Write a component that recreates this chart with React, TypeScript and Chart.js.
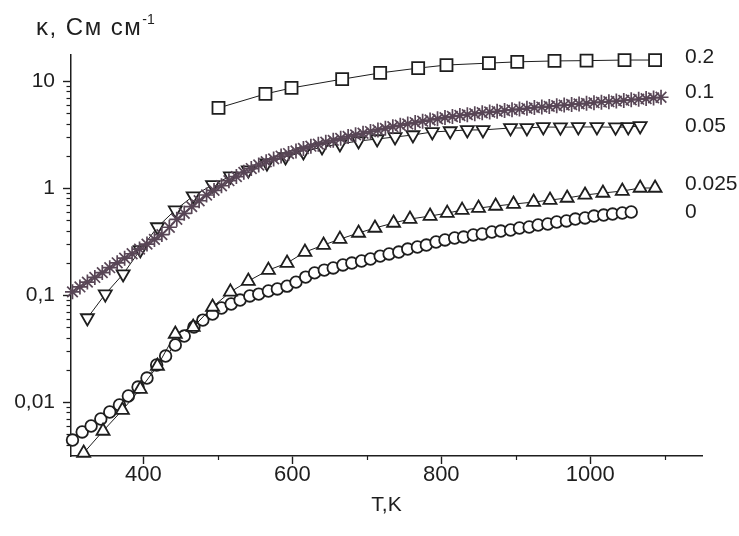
import React, { useEffect, useRef } from 'react';
import { Chart, registerables } from 'chart.js';

Chart.register(...registerables);

// ---- data (T in K, kappa in S/cm) ----
const T_SQ = [501, 564, 599, 667, 718, 769, 807, 864, 902, 952, 995, 1046, 1087];
const K_SQ = [5.6, 7.57, 8.61, 10.4, 11.9, 13.2, 14.1, 14.7, 15.1, 15.4, 15.5, 15.7, 15.7];

const T_STAR = [305, 315, 325, 335, 345, 355, 365, 375, 385, 395, 405, 415, 425, 435, 445, 455, 465, 475, 485, 495,
  505, 515, 525, 535, 545, 555, 565, 575, 585, 595, 605, 615, 625, 635, 645, 655, 665, 675, 685, 695,
  705, 715, 725, 735, 745, 755, 765, 775, 785, 795, 805, 815, 825, 835, 845, 855, 865, 875, 885, 895,
  905, 915, 925, 935, 945, 955, 965, 975, 985, 995, 1005, 1015, 1025, 1035, 1045, 1055, 1065, 1075, 1085, 1095];
const K_STAR = [0.107, 0.119, 0.132, 0.146, 0.162, 0.18, 0.2, 0.221, 0.243, 0.269, 0.299, 0.331, 0.367, 0.43, 0.51, 0.58, 0.67, 0.76, 0.86, 0.95,
  1.05, 1.17, 1.28, 1.4, 1.52, 1.64, 1.76, 1.87, 1.99, 2.1, 2.22, 2.34, 2.46, 2.57, 2.68, 2.79, 2.91, 3.03, 3.14, 3.25,
  3.37, 3.49, 3.61, 3.74, 3.86, 3.97, 4.09, 4.21, 4.32, 4.43, 4.55, 4.66, 4.76, 4.85, 4.95, 5.05, 5.13, 5.21, 5.3, 5.38,
  5.47, 5.56, 5.64, 5.71, 5.79, 5.87, 5.96, 6.03, 6.11, 6.18, 6.27, 6.34, 6.41, 6.49, 6.58, 6.67, 6.76, 6.85, 6.95, 7.05];

const T_DOWN = [325, 349, 373, 396, 419, 443, 467, 493, 517, 541, 566, 591, 615, 640, 664, 689, 714, 738, 762, 788,
  812, 835, 856, 893, 915, 937, 960, 984, 1009, 1034, 1051, 1067];
const K_DOWN = [0.061, 0.102, 0.157, 0.264, 0.432, 0.622, 0.841, 1.07, 1.29, 1.47, 1.71, 1.95, 2.17, 2.42, 2.58, 2.75, 2.87, 3.0, 3.13, 3.34,
  3.41, 3.49, 3.49, 3.64, 3.64, 3.72, 3.7, 3.72, 3.72, 3.7, 3.72, 3.8];

const T_UP = [320, 346, 372, 396, 419, 443, 467, 493, 517, 541, 568, 593, 617, 642, 664, 689, 711, 736, 758, 785,
  808, 828, 850, 873, 897, 924, 946, 969, 993, 1017, 1043, 1067, 1087];
const K_UP = [0.00334, 0.00536, 0.00841, 0.0132, 0.0217, 0.0432, 0.0502, 0.0773, 0.107, 0.135, 0.171, 0.199, 0.252, 0.293, 0.333, 0.38, 0.423, 0.471, 0.513, 0.547,
  0.583, 0.622, 0.65, 0.679, 0.708, 0.739, 0.772, 0.807, 0.861, 0.898, 0.937, 1.0, 1.0];

const T_CIRC = [305, 318, 330, 343, 355, 368, 380, 393, 405, 418, 430, 443, 455, 468, 480, 493, 505, 518, 530, 543,
  555, 568, 580, 593, 605, 618, 630, 643, 655, 668, 680, 693, 705, 718, 730, 743, 755, 768, 780, 793,
  805, 818, 830, 843, 855, 868, 880, 893, 905, 918, 930, 943, 955, 968, 980, 993, 1005, 1018, 1030, 1043, 1055];
const K_CIRC = [0.00441, 0.00525, 0.00597, 0.00694, 0.00807, 0.00938, 0.01138, 0.0138, 0.01675, 0.0222, 0.0269, 0.0341, 0.0414, 0.0502, 0.0583, 0.0664, 0.0756, 0.0824, 0.0897, 0.098,
  0.102, 0.109, 0.114, 0.121, 0.132, 0.147, 0.161, 0.171, 0.179, 0.191, 0.199, 0.208, 0.217, 0.231, 0.242, 0.252, 0.269, 0.281, 0.293, 0.313,
  0.327, 0.341, 0.348, 0.364, 0.372, 0.388, 0.396, 0.405, 0.423, 0.432, 0.451, 0.461, 0.481, 0.492, 0.513, 0.525, 0.547, 0.559, 0.571, 0.584, 0.597];

const SERIES_LABELS = ['0.2', '0.1', '0.05', '0.025', '0'];
const SERIES_LABEL_AT = [16.8, 7.9, 3.79, 1.09, 0.6];

const X_MAJOR = [400, 600, 800, 1000];
const X_LABELS = ['400', '600', '800', '1000'];
const X_MINOR = [500, 700, 900, 1100];
const Y_MAJOR = [0.01, 0.1, 1, 10];
const Y_LABELS = ['0,01', '0,1', '1', '10'];

const INK = '#1e1e1e';
const STAR_COLOR = '#584656';
const FONT = '"Liberation Sans", Arial, Helvetica, sans-serif';

const pts = (xs: number[], ys: number[]) => xs.map((x, i) => ({ x, y: ys[i] }));

const decorPlugin = {
  id: 'decor',
  afterDraw(chart: any) {
    const { ctx, chartArea, scales } = chart;
    const xs = scales.x;
    const ys = scales.y;
    ctx.save();
    ctx.strokeStyle = INK;
    ctx.lineWidth = 1.2;
    // minor y ticks
    for (let e = -3; e <= 1; e++) {
      for (let m = 2; m <= 9; m++) {
        const v = m * Math.pow(10, e);
        if (v < ys.min || v > ys.max) continue;
        const py = Math.round(ys.getPixelForValue(v)) + 0.5;
        ctx.beginPath();
        ctx.moveTo(chartArea.left - 4.5, py);
        ctx.lineTo(chartArea.left, py);
        ctx.stroke();
      }
    }
    // minor x ticks
    for (const v of X_MINOR) {
      const px = Math.round(xs.getPixelForValue(v)) + 0.5;
      ctx.beginPath();
      ctx.moveTo(px, chartArea.bottom);
      ctx.lineTo(px, chartArea.bottom + 4);
      ctx.stroke();
    }
    // axis title (top-left)
    ctx.fillStyle = INK;
    ctx.textBaseline = 'alphabetic';
    ctx.textAlign = 'left';
    ctx.font = `24px ${FONT}`;
    (ctx as any).letterSpacing = '1.5px';
    const main = 'κ, См см';
    ctx.fillText(main, 36, 35);
    const w = ctx.measureText(main).width;
    (ctx as any).letterSpacing = '0px';
    ctx.font = `14px ${FONT}`;
    ctx.fillText('-1', 36 + w, 24);
    // series labels
    ctx.font = `21px ${FONT}`;
    ctx.textBaseline = 'middle';
    SERIES_LABELS.forEach((t, i) => {
      ctx.fillText(t, chartArea.right - 17, ys.getPixelForValue(SERIES_LABEL_AT[i]));
    });
    ctx.restore();
  },
};

const baseDs = {
  showLine: true,
  borderColor: INK,
  borderWidth: 1,
  pointBorderColor: INK,
  pointBackgroundColor: '#ffffff',
  pointBorderWidth: 1.8,
  clip: false as any,
};

export default function App() {
  const ref = useRef<HTMLCanvasElement | null>(null);
  useEffect(() => {
    if (!ref.current) return;
    const chart = new Chart(ref.current, {
      type: 'scatter',
      data: {
        datasets: [
          { ...baseDs, label: '0.2', data: pts(T_SQ, K_SQ), pointStyle: 'rect', pointRadius: 8.5 },
          { ...baseDs, label: '0.1', data: pts(T_STAR, K_STAR), pointStyle: 'star', pointRadius: 7.5, pointBorderColor: STAR_COLOR, borderColor: STAR_COLOR, pointBorderWidth: 1.7 },
          { ...baseDs, label: '0.05', data: pts(T_DOWN, K_DOWN), pointStyle: 'triangle', pointRotation: 180, pointRadius: 7.5 },
          { ...baseDs, label: '0.025', data: pts(T_UP, K_UP), pointStyle: 'triangle', pointRadius: 7.5 },
          { ...baseDs, label: '0', data: pts(T_CIRC, K_CIRC), pointStyle: 'circle', pointRadius: 5.8 },
        ],
      },
      options: {
        animation: false,
        responsive: true,
        maintainAspectRatio: false,
        layout: { padding: { left: 0, right: 37, top: 55, bottom: 0 } },
        plugins: { legend: { display: false }, tooltip: { enabled: false }, title: { display: false } },
        scales: {
          x: {
            type: 'linear',
            min: 303,
            max: 1150,
            afterBuildTicks: (s: any) => { s.ticks = X_MAJOR.map((v) => ({ value: v })); },
            afterFit: (s: any) => { s.height = 80; },
            ticks: {
              autoSkip: false,
              maxRotation: 0,
              callback: (_v: any, i: number) => X_LABELS[i],
              color: INK,
              font: { family: FONT, size: 22, lineHeight: 1 },
              padding: 0,
            },
            grid: { drawOnChartArea: false, drawTicks: true, tickLength: 8, tickColor: INK, tickWidth: 1.4 },
            border: { display: true, color: INK, width: 1.5 },
            title: { display: true, text: 'T,K', color: INK, font: { family: FONT, size: 21 }, padding: { top: 0, bottom: 18 } },
          },
          y: {
            type: 'logarithmic',
            min: 0.00313,
            max: 17.5,
            afterBuildTicks: (s: any) => { s.ticks = Y_MAJOR.map((v) => ({ value: v })); },
            afterFit: (s: any) => { s.width = 71; },
            ticks: {
              autoSkip: false,
              callback: (_v: any, i: number) => Y_LABELS[i],
              color: INK,
              font: { family: FONT, size: 21 },
              padding: 8,
            },
            grid: { drawOnChartArea: false, drawTicks: true, tickLength: 8, tickColor: INK, tickWidth: 1.4 },
            border: { display: true, color: INK, width: 1.5 },
          },
        },
      },
      plugins: [decorPlugin],
    } as any);
    return () => chart.destroy();
  }, []);

  return (
    <div style={{ position: 'absolute', left: 0, top: 0, width: 739, height: 536, background: '#ffffff' }}>
      <canvas ref={ref} />
    </div>
  );
}
